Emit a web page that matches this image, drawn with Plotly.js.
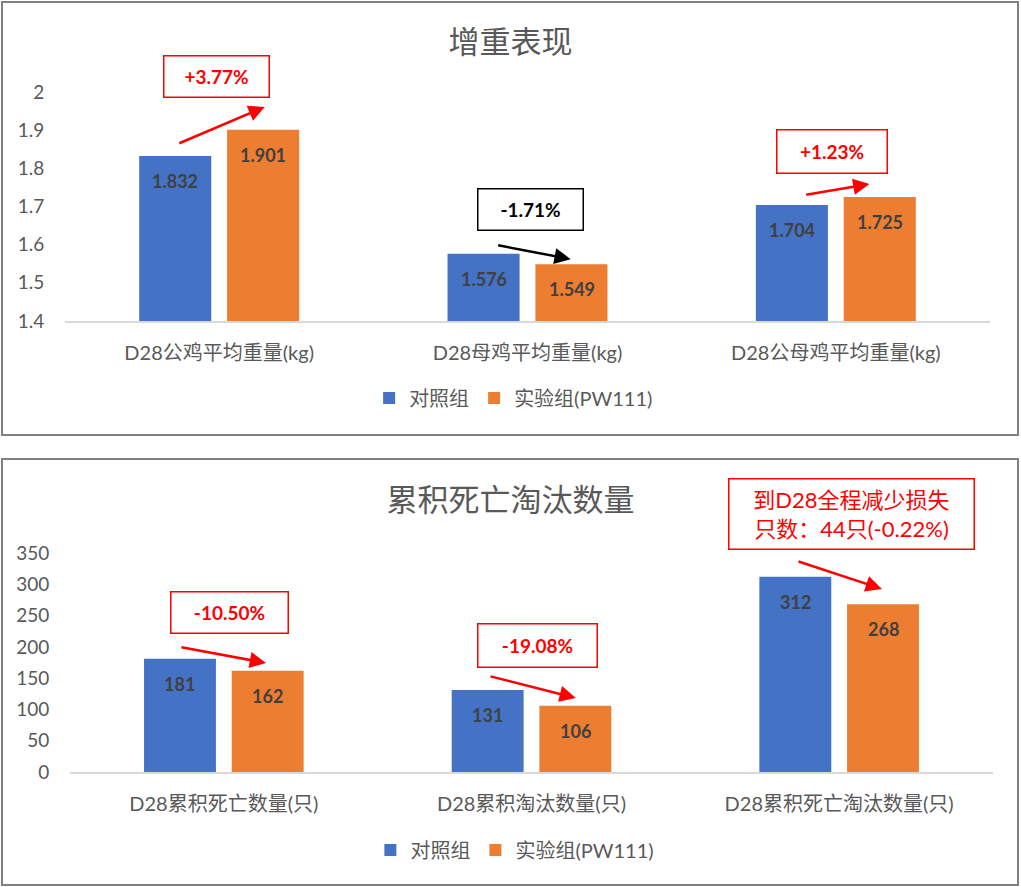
<!DOCTYPE html>
<html>
<head>
<meta charset="utf-8">
<script src="https://cdn.plot.ly/plotly-3.0.1.min.js"></script>
<style>
  html, body { margin:0; padding:0; background:#ffffff; width:1021px; height:887px; overflow:hidden; }
  .frame { position:absolute; border:2px solid #808080; box-sizing:border-box; background:#fff; }
  .plot { position:absolute; left:0; width:1021px; }
</style>
</head>
<body>
<div class="frame" style="left:1px; top:1px; width:1018px; height:435px;"></div>
<div class="frame" style="left:1px; top:458px; width:1018px; height:428px;"></div>
<div id="top" class="plot" style="top:0px; height:440px;"></div>
<div id="bottom" class="plot" style="top:440px; height:447px;"></div>
<script>
// ---------- data ----------
const seriesNames = ['对照组', '实验组(PW111)'];
const weightCategories = ['D28公鸡平均重量(kg)', 'D28母鸡平均重量(kg)', 'D28公母鸡平均重量(kg)'];
const weightControl = [1.832, 1.576, 1.704];
const weightTrial = [1.901, 1.549, 1.725];
const weightChanges = ['+3.77%', '-1.71%', '+1.23%'];

const lossCategories = ['D28累积死亡数量(只)', 'D28累积淘汰数量(只)', 'D28累积死亡淘汰数量(只)'];
const lossControl = [181, 131, 312];
const lossTrial = [162, 106, 268];
const lossChanges = ['-10.50%', '-19.08%', '到D28全程减少损失<br>只数：44只(-0.22%)'];

// ---------- styles ----------
const FONT = "Lato, 'Noto Sans CJK SC', sans-serif";
const GREY = '#595959';
const BLUE = '#4472C4';
const ORANGE = '#ED7D31';
const RED = '#FF0000';

function bars(cats, ctrl, trial) {
  return [
    {type:'bar', name:seriesNames[0], x:cats, y:ctrl, marker:{color:BLUE}, hoverinfo:'skip'},
    {type:'bar', name:seriesNames[1], x:cats, y:trial, marker:{color:ORANGE}, hoverinfo:'skip'}
  ];
}

function valueLabels(ctrl, trial, fmt) {
  const out = [];
  const shift = 44;
  ctrl.forEach((v, i) => out.push({x:i, y:v, xref:'x', yref:'y', text:fmt(v), showarrow:false,
    xshift:-shift, yshift:-25, font:{family:FONT, size:18, color:'#404040', weight:'bold'}}));
  trial.forEach((v, i) => out.push({x:i, y:v, xref:'x', yref:'y', text:fmt(v), showarrow:false,
    xshift:shift, yshift:-25, font:{family:FONT, size:18, color:'#404040', weight:'bold'}}));
  return out;
}

function box(text, x, y, color, w, h, yref) {
  return {x:x, y:y, xref:'x', yref:yref || 'y', xanchor:'center', yanchor:'middle', text:text, showarrow:false,
    font:{family:FONT, size:19, color:color, weight:'bold'},
    bordercolor:color, borderwidth:1.5, borderpad:2, bgcolor:'#ffffff', width:w, height:h};
}
function arrow(x0, y0, x1, y1, color) {
  return {x:x1, y:y1, ax:x0, ay:y0, xref:'x', yref:'y', axref:'x', ayref:'y', text:'',
    showarrow:true, arrowhead:2, arrowsize:1.3, arrowwidth:2.5, arrowcolor:color, standoff:0, startstandoff:0};
}

function baseLayout(title, titleY, margin, yrange, dtick, legendX, legendY) {
  return {
    width:1021, height: margin.h,
    margin:{l:margin.l, r:margin.r, t:margin.t, b:margin.b, pad:0},
    paper_bgcolor:'rgba(0,0,0,0)', plot_bgcolor:'rgba(0,0,0,0)',
    font:{family:FONT, color:GREY},
    title:{text:title, x:0.5, xref:'container', xanchor:'center', y:titleY, yref:'container', yanchor:'middle',
      font:{family:FONT, size:31, color:GREY}},
    barmode:'group', bargap:0.43, bargroupgap:0.18,
    xaxis:{type:'category', showgrid:false, zeroline:false, showline:true, linecolor:'#D9D9D9', linewidth:1.5,
      ticks:'outside', ticklen:13, tickcolor:'rgba(0,0,0,0)', tickfont:{family:FONT, size:20, color:GREY},
      fixedrange:true},
    yaxis:{range:yrange, dtick:dtick, showgrid:false, zeroline:false, showline:false,
      ticks:'outside', ticklen:16, tickcolor:'rgba(0,0,0,0)', tickfont:{family:FONT, size:19, color:GREY},
      fixedrange:true},
    showlegend:true,
    legend:{orientation:'h', x:legendX, xanchor:'center', y:legendY, yanchor:'middle',
      font:{family:FONT, size:20, color:GREY}, itemsizing:'constant', traceorder:'normal'},
    annotations:[]
  };
}

// ---------- top chart ----------
const topLayout = baseLayout('增重表现', 1 - 42/440, {l:65, r:31, t:92, b:119, h:440}, [1.4, 2.0], 0.1, 0.485, -0.336);
topLayout.annotations = valueLabels(weightControl, weightTrial, v => v.toFixed(3)).concat([
  box(weightChanges[0], -0.010, (321 - 77) / 229, RED, 100, 36, 'paper'),
  arrow(-0.134, 1.864, 0.148, 1.961, RED),
  box(weightChanges[1], 1.010, 1.691, '#000000', 100, 36),
  arrow(0.900, 1.599, 1.140, 1.562, '#000000'),
  box(weightChanges[2], 1.986, 1.845, RED, 105, 38),
  arrow(1.899, 1.730, 2.109, 1.759, RED)
]);
Plotly.newPlot('top', bars(weightCategories, weightControl, weightTrial), topLayout, {staticPlot:true});

// ---------- bottom chart ----------
const botLayout = baseLayout('累积死亡淘汰数量', 1 - 60/447, {l:70, r:28, t:113, b:115, h:447}, [0, 350], 50, 0.482, -0.356);
const bigBox = box(lossChanges[2], 2.041, (772 - 514) / 219, RED, 240, 65, 'paper');
bigBox.font = {family:FONT, size:22, color:RED};
botLayout.annotations = valueLabels(lossControl, lossTrial, v => String(v)).concat([
  box(lossChanges[0], 0.020, 255.7, RED, 112, 36),
  arrow(-0.1425, 199.8, 0.137, 174.2, RED),
  box(lossChanges[1], 1.021, 201.4, RED, 114, 38),
  arrow(0.862, 153.4, 1.144, 118.3, RED),
  bigBox,
  arrow(1.863, 337.2, 2.139, 292.5, RED)
]);
Plotly.newPlot('bottom', bars(lossCategories, lossControl, lossTrial), botLayout, {staticPlot:true});
</script>
</body>
</html>
